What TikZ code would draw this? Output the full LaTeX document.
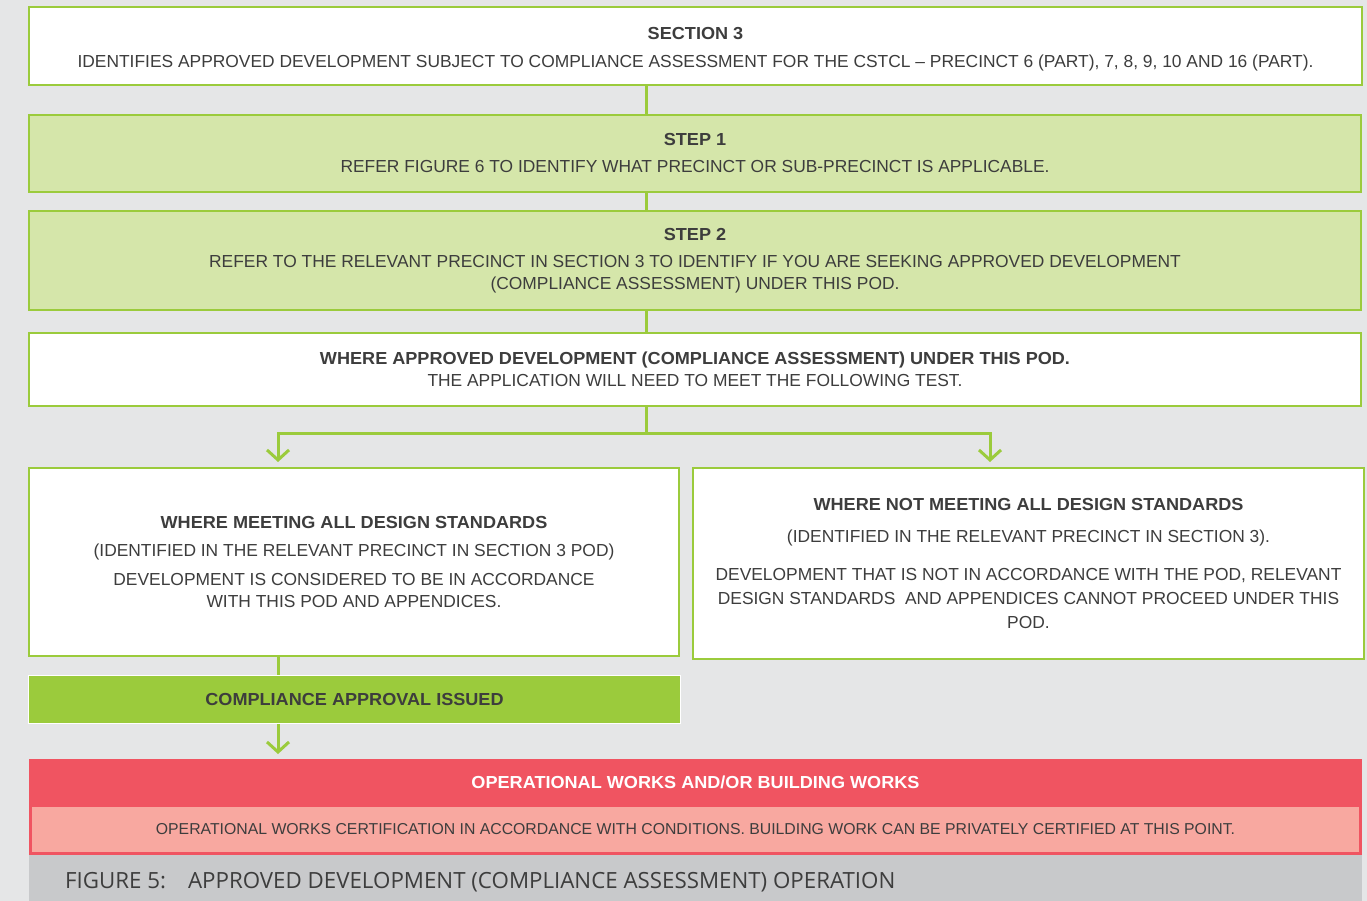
\documentclass[tikz,border=0pt]{standalone}
\usepackage{fontspec}
\setmainfont{Liberation Sans}[BoldFeatures={FakeStretch=1.04}]
\newfontfamily\capfont{Open Sans}
\usetikzlibrary{arrows.meta,calc}
\definecolor{bgc}{HTML}{E5E6E7}
\definecolor{grn}{HTML}{9BCB3C}
\definecolor{lgrn}{HTML}{D5E6AA}
\definecolor{redc}{HTML}{F05461}
\definecolor{pinkc}{HTML}{F8A8A0}
\definecolor{capc}{HTML}{C8C9CB}
\definecolor{txt}{HTML}{3D3D3D}
\tikzset{
  box/.style={draw=grn, line width=2pt, anchor=north west, inner sep=0pt, align=center, text=txt,
    font=\fontsize{17.4}{22}\selectfont},
  conn/.style={draw=grn, line width=3pt},
  arr/.style={draw=grn, line width=3pt, -{Straight Barb[length=10pt,width=22pt,line width=3pt]}},
}
\begin{document}
\begin{tikzpicture}[x=1pt,y=-1pt]
\useasboundingbox (0,0) rectangle (1367,901);
\fill[bgc] (0,0) rectangle (1367,901);
\coordinate (cx) at (646,0);
\coordinate (lx) at (278,0);
\coordinate (rx) at (990,0);
\coordinate (by) at (0,433);

\node[box, fill=white, minimum width=1333pt, minimum height=78pt] (sec) at (28,6)
 {\rule{0pt}{18.5pt}\textbf{SECTION 3}\\[6pt]IDENTIFIES APPROVED DEVELOPMENT SUBJECT TO COMPLIANCE ASSESSMENT FOR THE CSTCL – PRECINCT 6 (PART), 7, 8, 9, 10 AND 16 (PART).};
\node[box, fill=lgrn, minimum width=1332pt, minimum height=77pt] (s1) at (28,114)
 {\textbf{STEP 1}\\[5pt]REFER FIGURE 6 TO IDENTIFY WHAT PRECINCT OR SUB-PRECINCT IS APPLICABLE.};
\node[box, fill=lgrn, minimum width=1332pt, minimum height=99pt] (s2) at (28,210)
 {\textbf{STEP 2}\\[5pt]REFER TO THE RELEVANT PRECINCT IN SECTION 3 TO IDENTIFY IF YOU ARE SEEKING APPROVED DEVELOPMENT\\(COMPLIANCE ASSESSMENT) UNDER THIS POD.};
\node[box, fill=white, minimum width=1332pt, minimum height=73pt] (wa) at (28,332)
 {\textbf{WHERE APPROVED DEVELOPMENT (COMPLIANCE ASSESSMENT) UNDER THIS POD.}\\THE APPLICATION WILL NEED TO MEET THE FOLLOWING TEST.};
\node[box, fill=white, minimum width=650pt, minimum height=188pt] (lb) at (28,467)
 {\textbf{WHERE MEETING ALL DESIGN STANDARDS}\\[6pt](IDENTIFIED IN THE RELEVANT PRECINCT IN SECTION 3 POD)\\[7pt]DEVELOPMENT IS CONSIDERED TO BE IN ACCORDANCE\\WITH THIS POD AND APPENDICES.};
\node[box, fill=white, minimum width=671pt, minimum height=191pt] (rb) at (692,467)
 {\textbf{WHERE NOT MEETING ALL DESIGN STANDARDS}\\[10pt](IDENTIFIED IN THE RELEVANT PRECINCT IN SECTION 3).\\[16pt]DEVELOPMENT THAT IS NOT IN ACCORDANCE WITH THE POD, RELEVANT\\[2pt]DESIGN STANDARDS\ \ AND APPENDICES CANNOT PROCEED UNDER THIS\\[2pt]POD.};
\node[box, draw=white, line width=1pt, fill=grn, minimum width=652pt, minimum height=48pt] (ca) at (28,675)
 {\textbf{COMPLIANCE APPROVAL ISSUED}};
\node[box, draw=none, fill=redc, minimum width=1333pt, minimum height=96pt] (ow) at (28,758) {};
\node[anchor=center, text=white, font=\fontsize{17.4}{22}\selectfont\bfseries] (owt) at ($(ow.north)+(0,24)$)
 {OPERATIONAL WORKS AND/OR BUILDING WORKS};
\node[box, draw=redc, line width=2pt, fill=pinkc, minimum width=1329pt, minimum height=47pt, font=\fontsize{15.8}{20}\selectfont] (oc) at (30,805)
 {OPERATIONAL WORKS CERTIFICATION IN ACCORDANCE WITH CONDITIONS. BUILDING WORK CAN BE PRIVATELY CERTIFIED AT THIS POINT.};
\node[box, draw=none, fill=capc, minimum width=1333pt, minimum height=47pt] (cap) at (28,854) {};
\node[anchor=west, text=txt, font=\capfont\fontsize{22.3}{26}\selectfont, inner sep=0pt] (capt) at (65,882)
 {FIGURE 5:\hspace{22pt}APPROVED DEVELOPMENT (COMPLIANCE ASSESSMENT) OPERATION};

\draw[conn] (sec.south -| cx) -- (s1.north -| cx);
\draw[conn] (s1.south -| cx) -- (s2.north -| cx);
\draw[conn] (s2.south -| cx) -- (wa.north -| cx);
\draw[conn] (wa.south -| cx) -- (cx |- by);
\draw[arr] (cx |- by) -| ([yshift=5pt]lb.north -| lx);
\draw[arr] (cx |- by) -| ([yshift=5pt]rb.north -| rx);
\draw[conn] (lb.south -| lx) -- (ca.north -| lx);
\draw[arr] (ca.south -| lx) -- ([yshift=4pt]ow.north -| lx);
\end{tikzpicture}
\end{document}
